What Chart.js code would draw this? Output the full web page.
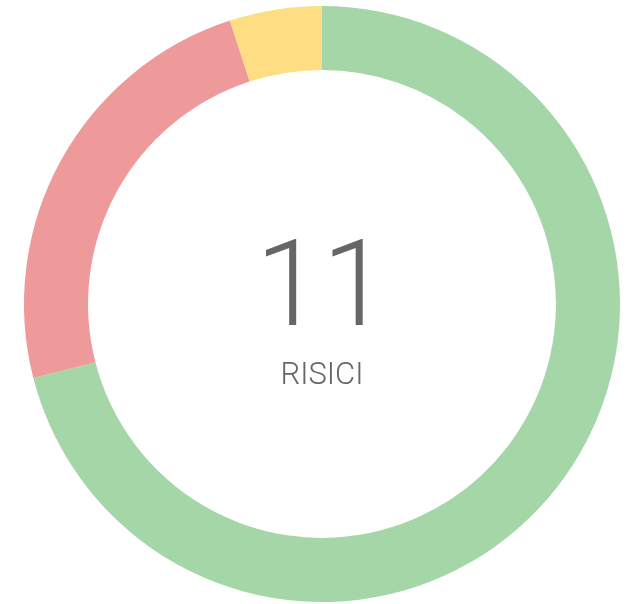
<!DOCTYPE html>
<html>
<head>
<meta charset="utf-8">
<script src="https://cdn.jsdelivr.net/npm/chart.js@4"></script>
<style>
  html, body { margin: 0; padding: 0; background: #fff; }
  #wrap { width: 633px; height: 604px; }
</style>
</head>
<body>
<div id="wrap"><canvas id="chart"></canvas></div>
<script>
// risk levels, clockwise from the top
const labels = ['Basso', 'Alto', 'Medio'];
const values = [71, 24, 5];
const colors = ['#a5d6a7', '#ef9a9a', '#ffdd82'];
const totalRisks = '11';
const centerLabel = 'RISICI';

// number + caption in the hole
const centerText = {
  id: 'centerText',
  afterDraw(chart) {
    const { ctx } = chart;
    const meta = chart.getDatasetMeta(0).data[0];
    const x = meta.x, y = meta.y;
    ctx.save();
    ctx.textAlign = 'center';
    ctx.textBaseline = 'alphabetic';
    ctx.fillStyle = '#666';
    ctx.font = '300 120px Roboto';
    ctx.fillText(totalRisks, x, y + 21);
    ctx.font = '300 31px Roboto';
    ctx.fillText(centerLabel, x, y + 80);
    ctx.restore();
  }
};

new Chart(document.getElementById('chart'), {
  type: 'doughnut',
  data: {
    labels: labels,
    datasets: [{
      data: values,
      backgroundColor: colors,
      hoverBackgroundColor: colors,
      borderWidth: 0
    }]
  },
  options: {
    responsive: true,
    maintainAspectRatio: false,
    animation: false,
    cutout: '78.5%',
    layout: { padding: { top: 6, bottom: 2, left: 11, right: 0 } },
    plugins: {
      legend: { display: false },
      tooltip: { enabled: false }
    }
  },
  plugins: [centerText]
});
</script>
</body>
</html>
